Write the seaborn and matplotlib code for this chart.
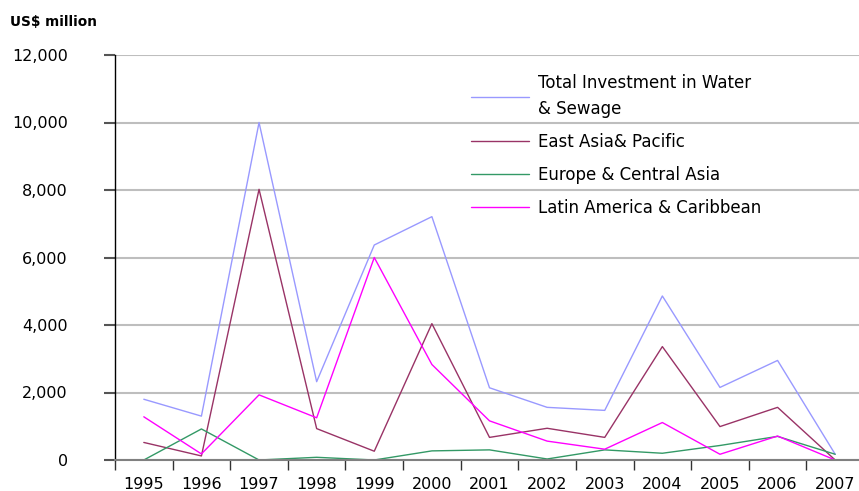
import matplotlib
matplotlib.use("Agg")
import matplotlib.pyplot as plt
import numpy as np
import pandas as pd
import seaborn as sns

# values (US$ million)
years = list(range(1995, 2008))
total = [1800, 1300, 10000, 2320, 6370, 7210, 2140, 1560, 1470, 4860, 2150, 2950, 170]
east_asia = [520, 120, 8020, 930, 260, 4040, 670, 940, 670, 3360, 990, 1560, 0]
europe = [0, 920, 0, 80, 0, 270, 300, 30, 300, 200, 430, 700, 170]
latin = [1280, 180, 1930, 1250, 6000, 2830, 1160, 560, 320, 1110, 170, 710, 0]

series_names = ["Total Investment in Water\n& Sewage", "East Asia& Pacific",
                "Europe & Central Asia", "Latin America & Caribbean"]
colors = ["#9999FF", "#993366", "#339966", "#FF00FF"]

df = pd.concat([
    pd.DataFrame({"year": years, "value": vals, "series": name})
    for name, vals in zip(series_names, [total, east_asia, europe, latin])
])

sns.set_style("white")
plt.rcParams["font.family"] = ["DejaVu Sans"]
plt.rcParams["font.size"] = 11
plt.rcParams["text.color"] = "black"
plt.rcParams["xtick.color"] = "black"
plt.rcParams["ytick.color"] = "black"

fig = plt.figure(figsize=(8.59, 4.91), dpi=100)
ax = fig.add_axes([115 / 859, 1 - 460 / 491, (864 - 115) / 859, (460 - 55) / 491])

sns.lineplot(data=df, x="year", y="value", hue="series", hue_order=series_names,
             palette=colors, estimator=None, linewidth=1, legend=False, ax=ax)

ax.set_ylim(0, 12000)
ax.set_xlim(1994.5, 2007.5)
yt = np.arange(0, 12001, 2000)
ax.set_yticks(yt)
ax.set_yticklabels([f"{v:,}" for v in yt])
ax.set_xticks(np.arange(1994.5, 2008, 1))
ax.set_xticklabels([])
ax.set_xticks(years, minor=True)
ax.set_xticklabels([str(y) for y in years], minor=True)
ax.tick_params(axis="x", which="major", length=7, width=1, color="#333333", direction="out", bottom=True)
ax.tick_params(axis="x", which="minor", length=0, pad=12, labelsize=11.5)
ax.tick_params(axis="y", length=8, width=1.5, color="#555555", direction="out", left=True, pad=26,
               labelsize=11.5)

ax.grid(axis="y", color="#BEBEBE", linewidth=1.5)
ax.grid(axis="x", visible=False)
ax.set_axisbelow(True)
sns.despine(ax=ax, top=True, right=True)
ax.spines["left"].set_color("black")
ax.spines["left"].set_linewidth(1)
ax.spines["bottom"].set_color("#808080")
ax.spines["bottom"].set_linewidth(1.5)
ax.set_xlabel("")
ax.set_ylabel("")

fig.text(10 / 859, 1 - 22 / 491, "US$ million", fontsize=9.8, fontweight="bold", va="center", ha="left")

leg = ax.legend(handles=ax.get_lines()[:4], labels=series_names, frameon=False,
                loc="upper left", bbox_to_anchor=(471 / 859, 1 - 74 / 491),
                bbox_transform=fig.transFigure, borderpad=0, borderaxespad=0,
                handlelength=3.5, handletextpad=0.5, labelspacing=0.9, fontsize=12)
leg.get_texts()[0].set_linespacing(1.55)

fig.savefig("out.png", dpi=100)
